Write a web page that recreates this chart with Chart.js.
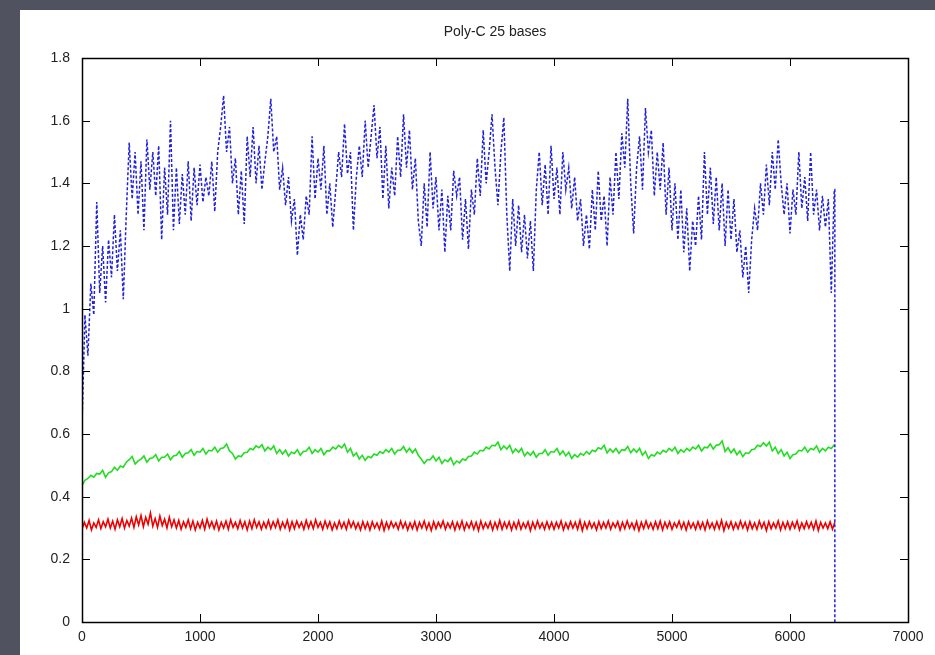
<!DOCTYPE html>
<html>
<head>
<meta charset="utf-8">
<script src="https://cdn.jsdelivr.net/npm/chart.js@4.4.1/dist/chart.umd.min.js"></script>
<style>
  html, body { margin: 0; padding: 0; background: #50535f; }
  #frame { position: absolute; left: 20px; top: 10px; width: 915px; height: 645px; background: #fff; }
</style>
</head>
<body>
<div id="frame"><canvas id="chart" width="915" height="645"></canvas></div>
<script>
// values
var TITLE = 'Poly-C 25 bases';
var X_TICKS = [0, 1000, 2000, 3000, 4000, 5000, 6000, 7000];
var Y_TICKS = [0, 0.2, 0.4, 0.6, 0.8, 1, 1.2, 1.4, 1.6, 1.8];
var END_X = 6380;

// blue series, one value every 25
var BLUE_STEP = 25;
var blueVals = [
  0.63, 0.98, 0.85, 1.08, 0.98, 1.34, 1.05, 1.20,
  1.02, 1.22, 1.10, 1.30, 1.12, 1.25, 1.03, 1.30,
  1.53, 1.35, 1.50, 1.30, 1.47, 1.25, 1.54, 1.38,
  1.50, 1.36, 1.52, 1.22, 1.45, 1.30, 1.60, 1.25,
  1.45, 1.27, 1.43, 1.30, 1.47, 1.28, 1.45, 1.33,
  1.46, 1.34, 1.42, 1.36, 1.47, 1.31, 1.50, 1.58,
  1.68, 1.50, 1.58, 1.40, 1.48, 1.30, 1.44, 1.27,
  1.55, 1.42, 1.58, 1.40, 1.52, 1.38, 1.47, 1.55,
  1.67, 1.50, 1.55, 1.38, 1.45, 1.33, 1.42, 1.28,
  1.35, 1.17, 1.30, 1.22, 1.36, 1.30, 1.55, 1.35,
  1.48, 1.38, 1.52, 1.30, 1.40, 1.26, 1.38, 1.50,
  1.42, 1.59, 1.43, 1.50, 1.25, 1.42, 1.52, 1.42,
  1.60, 1.45, 1.55, 1.65, 1.48, 1.58, 1.35, 1.52,
  1.32, 1.45, 1.36, 1.55, 1.42, 1.62, 1.45, 1.57,
  1.38, 1.48, 1.28, 1.20, 1.40, 1.26, 1.50, 1.32,
  1.42, 1.25, 1.38, 1.18, 1.36, 1.25, 1.44, 1.36,
  1.42, 1.22, 1.35, 1.19, 1.38, 1.30, 1.48, 1.36,
  1.57, 1.40, 1.50, 1.62, 1.45, 1.33, 1.50, 1.61,
  1.30, 1.12, 1.35, 1.20, 1.33, 1.18, 1.30, 1.16,
  1.28, 1.12, 1.38, 1.50, 1.33, 1.46, 1.30, 1.52,
  1.35, 1.45, 1.30, 1.50, 1.38, 1.45, 1.32, 1.42,
  1.28, 1.35, 1.20, 1.30, 1.19, 1.38, 1.25, 1.44,
  1.28, 1.36, 1.20, 1.42, 1.30, 1.50, 1.35, 1.56,
  1.45, 1.67, 1.40, 1.24, 1.45, 1.55, 1.38, 1.64,
  1.50, 1.57, 1.36, 1.50, 1.38, 1.53, 1.30, 1.45,
  1.25, 1.40, 1.22, 1.38, 1.18, 1.32, 1.12, 1.28,
  1.20, 1.36, 1.22, 1.50, 1.30, 1.45, 1.27, 1.42,
  1.25, 1.40, 1.20, 1.38, 1.22, 1.35, 1.18, 1.25,
  1.10, 1.20, 1.05, 1.22, 1.32, 1.25, 1.40, 1.30,
  1.46, 1.33, 1.50, 1.38, 1.54, 1.40, 1.30, 1.40,
  1.24, 1.38, 1.30, 1.50, 1.32, 1.42, 1.28, 1.50,
  1.30, 1.38, 1.25, 1.36, 1.26, 1.35, 1.05, 1.38
];

// green series, one value every 25
var GREEN_STEP = 25;
var greenVals = [
  0.436, 0.452, 0.458, 0.468, 0.462, 0.474, 0.472, 0.484, 0.462, 0.476, 0.480, 0.494, 0.484, 0.498, 0.494, 0.510,
  0.518, 0.528, 0.504, 0.514, 0.520, 0.530, 0.510, 0.522, 0.524, 0.534, 0.514, 0.526, 0.526, 0.536, 0.518, 0.530,
  0.532, 0.544, 0.526, 0.538, 0.540, 0.550, 0.532, 0.544, 0.542, 0.554, 0.536, 0.548, 0.546, 0.558, 0.542, 0.554,
  0.556, 0.568, 0.546, 0.538, 0.520, 0.530, 0.528, 0.540, 0.542, 0.554, 0.550, 0.562, 0.556, 0.566, 0.546, 0.558,
  0.550, 0.562, 0.538, 0.550, 0.536, 0.548, 0.530, 0.542, 0.538, 0.550, 0.532, 0.544, 0.546, 0.558, 0.538, 0.550,
  0.542, 0.554, 0.534, 0.546, 0.546, 0.558, 0.552, 0.564, 0.556, 0.568, 0.542, 0.554, 0.530, 0.540, 0.520, 0.532,
  0.516, 0.528, 0.524, 0.536, 0.532, 0.544, 0.538, 0.550, 0.542, 0.554, 0.536, 0.548, 0.548, 0.560, 0.542, 0.554,
  0.540, 0.552, 0.532, 0.520, 0.506, 0.518, 0.518, 0.530, 0.514, 0.526, 0.506, 0.518, 0.512, 0.524, 0.502, 0.514,
  0.508, 0.520, 0.516, 0.528, 0.530, 0.542, 0.536, 0.548, 0.546, 0.558, 0.552, 0.564, 0.562, 0.574, 0.550, 0.562,
  0.552, 0.564, 0.540, 0.552, 0.542, 0.554, 0.530, 0.542, 0.532, 0.544, 0.526, 0.538, 0.538, 0.550, 0.532, 0.544,
  0.542, 0.554, 0.534, 0.546, 0.530, 0.542, 0.522, 0.534, 0.526, 0.538, 0.532, 0.544, 0.536, 0.548, 0.544, 0.556,
  0.552, 0.564, 0.540, 0.552, 0.542, 0.554, 0.538, 0.550, 0.548, 0.560, 0.540, 0.552, 0.542, 0.554, 0.532, 0.544,
  0.522, 0.534, 0.530, 0.542, 0.536, 0.548, 0.542, 0.554, 0.546, 0.558, 0.538, 0.550, 0.542, 0.554, 0.546, 0.558,
  0.552, 0.564, 0.546, 0.558, 0.556, 0.568, 0.552, 0.564, 0.566, 0.578, 0.544, 0.556, 0.540, 0.552, 0.534, 0.546,
  0.528, 0.540, 0.538, 0.550, 0.552, 0.564, 0.560, 0.572, 0.562, 0.574, 0.546, 0.558, 0.538, 0.550, 0.530, 0.542,
  0.522, 0.534, 0.536, 0.548, 0.546, 0.558, 0.542, 0.554, 0.550, 0.562, 0.542, 0.554, 0.546, 0.558, 0.554, 0.566
];

// red series, one value every 20
var RED_STEP = 20;
var redVals = [
  0.296, 0.318, 0.300, 0.324, 0.294, 0.316, 0.302, 0.326, 0.298, 0.320, 0.304, 0.328, 0.300, 0.322, 0.296, 0.326, 0.304, 0.330, 0.300, 0.324,
  0.306, 0.332, 0.302, 0.336, 0.310, 0.340, 0.304, 0.334, 0.312, 0.348, 0.306, 0.330, 0.302, 0.338, 0.308, 0.328, 0.300, 0.334, 0.304, 0.326,
  0.300, 0.324, 0.296, 0.320, 0.302, 0.326, 0.298, 0.322, 0.294, 0.318, 0.300, 0.324, 0.296, 0.328, 0.302, 0.320, 0.298, 0.322, 0.294, 0.318,
  0.300, 0.322, 0.296, 0.326, 0.302, 0.318, 0.298, 0.324, 0.300, 0.320, 0.294, 0.322, 0.298, 0.326, 0.302, 0.320, 0.296, 0.318, 0.300, 0.324,
  0.298, 0.320, 0.302, 0.326, 0.296, 0.318, 0.300, 0.324, 0.294, 0.320, 0.298, 0.322, 0.302, 0.318, 0.296, 0.324, 0.300, 0.320, 0.298, 0.326,
  0.302, 0.318, 0.296, 0.322, 0.300, 0.320, 0.294, 0.316, 0.298, 0.322, 0.300, 0.318, 0.296, 0.324, 0.302, 0.320, 0.298, 0.316, 0.294, 0.320,
  0.298, 0.318, 0.294, 0.320, 0.300, 0.316, 0.296, 0.322, 0.292, 0.318, 0.298, 0.320, 0.302, 0.316, 0.296, 0.322, 0.300, 0.318, 0.294, 0.316,
  0.298, 0.320, 0.294, 0.318, 0.300, 0.322, 0.296, 0.316, 0.292, 0.320, 0.298, 0.318, 0.302, 0.322, 0.296, 0.316, 0.300, 0.320, 0.294, 0.318,
  0.298, 0.322, 0.294, 0.316, 0.300, 0.320, 0.296, 0.318, 0.292, 0.322, 0.298, 0.316, 0.300, 0.320, 0.294, 0.318, 0.298, 0.324, 0.296, 0.318,
  0.300, 0.320, 0.294, 0.318, 0.298, 0.322, 0.296, 0.316, 0.300, 0.320, 0.292, 0.318, 0.298, 0.322, 0.300, 0.316, 0.296, 0.320, 0.298, 0.318,
  0.296, 0.318, 0.300, 0.322, 0.294, 0.316, 0.298, 0.320, 0.300, 0.318, 0.296, 0.324, 0.292, 0.318, 0.298, 0.320, 0.300, 0.316, 0.294, 0.320,
  0.298, 0.318, 0.300, 0.322, 0.296, 0.316, 0.302, 0.320, 0.294, 0.318, 0.298, 0.322, 0.300, 0.316, 0.296, 0.320, 0.292, 0.318, 0.298, 0.322,
  0.300, 0.316, 0.296, 0.320, 0.298, 0.322, 0.294, 0.318, 0.300, 0.320, 0.296, 0.316, 0.302, 0.322, 0.298, 0.318, 0.294, 0.320, 0.300, 0.316,
  0.296, 0.320, 0.298, 0.318, 0.294, 0.322, 0.300, 0.316, 0.296, 0.320, 0.298, 0.324, 0.292, 0.318, 0.300, 0.320, 0.296, 0.316, 0.298, 0.322,
  0.300, 0.318, 0.294, 0.320, 0.298, 0.316, 0.296, 0.322, 0.300, 0.318, 0.292, 0.320, 0.298, 0.316, 0.300, 0.322, 0.294, 0.318, 0.298, 0.320,
  0.296, 0.318, 0.300, 0.322, 0.294, 0.316, 0.298, 0.320, 0.300, 0.318, 0.296, 0.322, 0.292, 0.318, 0.300, 0.316, 0.298, 0.320, 0.296, 0.318
];

function toPoints( vals, step, dropToZero ){
  var pts = [];
  for( var i = 0; i < vals.length; i ++ ){
    pts.push( { x: i * step, y: vals[i] } );
  }
  if( dropToZero ){
    pts.push( { x: END_X, y: vals[vals.length - 1] } );
    pts.push( { x: END_X, y: 0 } );
  }
  return pts;
}

// gnuplot style frame with inward ticks on all four sides + title
var gnuFrame = {
  id: 'gnuFrame',
  afterDraw: function( chart ){
    var ctx = chart.ctx;
    var a = chart.chartArea;
    var xs = chart.scales.x, ys = chart.scales.y;
    var T = 8;
    ctx.save();
    ctx.strokeStyle = '#000';
    ctx.lineWidth = 1;
    ctx.beginPath();
    X_TICKS.forEach( function( v ){
      var px = Math.round( xs.getPixelForValue( v ) ) + 0.5;
      ctx.moveTo( px, a.bottom ); ctx.lineTo( px, a.bottom - T );
      ctx.moveTo( px, a.top ); ctx.lineTo( px, a.top + T );
    });
    Y_TICKS.forEach( function( v ){
      var py = Math.round( ys.getPixelForValue( v ) ) + 0.5;
      ctx.moveTo( a.left, py ); ctx.lineTo( a.left + T, py );
      ctx.moveTo( a.right, py ); ctx.lineTo( a.right - T, py );
    });
    ctx.stroke();
    ctx.lineWidth = 1.5;
    ctx.strokeRect( Math.round( a.left ) + 0.5, Math.round( a.top ) + 0.5,
                    Math.round( a.right - a.left ), Math.round( a.bottom - a.top ) );
    ctx.fillStyle = '#222';
    ctx.font = '14px "Liberation Sans", Arial, sans-serif';
    ctx.textAlign = 'center';
    ctx.textBaseline = 'middle';
    ctx.fillText( TITLE, ( a.left + a.right ) / 2, 22 );
    ctx.restore();
  }
};

var ctx = document.getElementById( 'chart' );
var chart = new Chart( ctx, {
  type: 'line',
  data: {
    datasets: [
      {
        label: 'blue',
        data: toPoints( blueVals, BLUE_STEP, true ),
        borderColor: '#2020dd',
        borderWidth: 1.5,
        borderDash: [ 3, 2 ],
        pointRadius: 0,
        fill: false
      },
      {
        label: 'green',
        data: toPoints( greenVals, GREEN_STEP, false ),
        borderColor: '#22dd22',
        borderWidth: 1.6,
        pointRadius: 0,
        fill: false
      },
      {
        label: 'red',
        data: toPoints( redVals, RED_STEP, false ),
        borderColor: '#ee0000',
        borderWidth: 1.6,
        pointRadius: 0,
        fill: false
      }
    ]
  },
  options: {
    responsive: false,
    animation: false,
    layout: { padding: { top: 48, right: 27, left: 0, bottom: 0 } },
    plugins: {
      legend: { display: false },
      tooltip: { enabled: false },
      title: { display: false }
    },
    scales: {
      x: {
        type: 'linear',
        min: 0,
        max: 7000,
        afterFit: function( s ){ s.height = 33; },
        afterBuildTicks: function( s ){ s.ticks = X_TICKS.map( function( v ){ return { value: v }; } ); },
        grid: { display: false, drawTicks: false },
        border: { display: false },
        ticks: {
          padding: 7,
          color: '#222',
          font: { family: '"Liberation Sans", Arial, sans-serif', size: 14 },
          callback: function( v ){ return String( v ); }
        }
      },
      y: {
        type: 'linear',
        min: 0,
        max: 1.8,
        afterFit: function( s ){ s.width = 62; },
        afterBuildTicks: function( s ){ s.ticks = Y_TICKS.map( function( v ){ return { value: v }; } ); },
        grid: { display: false, drawTicks: false },
        border: { display: false },
        ticks: {
          padding: 12,
          color: '#222',
          font: { family: '"Liberation Sans", Arial, sans-serif', size: 14 },
          callback: function( v ){ return String( Math.round( v * 10 ) / 10 ); }
        }
      }
    }
  },
  plugins: [ gnuFrame ]
});
</script>
</body>
</html>
